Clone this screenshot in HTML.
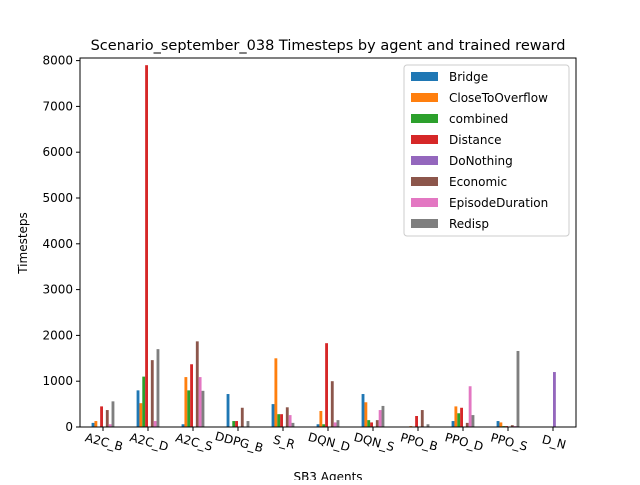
<!DOCTYPE html>
<html><head><meta charset="utf-8"><style>
body{margin:0;background:#fff}
text{font-family:"DejaVu Sans","Liberation Sans",sans-serif;fill:#000}
</style></head><body>
<svg id="chart" width="640" height="480" xmlns="http://www.w3.org/2000/svg">
<rect width="640" height="480" fill="#fff"/>
<text x="328" y="50" text-anchor="middle" font-size="14.5">Scenario_september_038 Timesteps by agent and trained reward</text>
<g id="bars"></g>
<g id="axes"></g>
<text transform="translate(27,243) rotate(-90)" text-anchor="middle" font-size="12">Timesteps</text>
<text x="328" y="481" text-anchor="middle" font-size="12">SB3 Agents</text>
<g id="legend"></g>
</svg>
<script>
const categories=["A2C_B","A2C_D","A2C_S","DDPG_B","S_R","DQN_D","DQN_S","PPO_B","PPO_D","PPO_S","D_N"];
const seriesNames=["Bridge","CloseToOverflow","combined","Distance","DoNothing","Economic","EpisodeDuration","Redisp"];
const colors=["#1f77b4","#ff7f0e","#2ca02c","#d62728","#9467bd","#8c564b","#e377c2","#7f7f7f"];
const bridge=[90,800,60,720,500,60,720,0,130,130,0];
const closeToOverflow=[130,520,1090,0,1500,350,540,20,450,100,0];
const combined=[0,1100,800,130,280,60,150,0,300,20,0];
const distance=[450,7900,1370,130,280,1830,100,240,420,20,0];
const doNothing=[0,0,0,0,0,0,0,0,0,0,1200];
const economic=[370,1460,1870,420,430,1000,150,370,90,40,0];
const episodeDuration=[60,130,1090,0,260,100,370,0,890,20,0];
const redisp=[560,1700,790,130,90,150,460,60,260,1660,0];
const yTicks=[0,1000,2000,3000,4000,5000,6000,7000,8000];
const series=[bridge,closeToOverflow,combined,distance,doNothing,economic,episodeDuration,redisp];
const L=80,R=576,T=58,B=427;
const ns="http://www.w3.org/2000/svg";
function y(v){return B-v*0.0458;}
function xc(i){return 103+i*45;}
const bw=2.85;
const gb=document.getElementById('bars');
series.forEach((s,si)=>{s.forEach((v,ci)=>{
 const r=document.createElementNS(ns,'rect');
 r.setAttribute('x',xc(ci)+(si-4)*bw);r.setAttribute('width',bw);
 r.setAttribute('y',y(v));r.setAttribute('height',B-y(v));r.setAttribute('fill',colors[si]);
 
 
 gb.appendChild(r);});});
const ga=document.getElementById('axes');
let h='<rect x="'+L+'" y="'+T+'" width="'+(R-L)+'" height="'+(B-T)+'" fill="none" stroke="#000" stroke-width="1"/>';
yTicks.forEach(t=>{h+='<line x1="'+(L-4)+'" x2="'+L+'" y1="'+y(t)+'" y2="'+y(t)+'" stroke="#000"/><text x="'+(L-7)+'" y="'+(y(t)+4)+'" text-anchor="end" font-size="12">'+t+'</text>';});
categories.forEach((c,i)=>{h+='<line x1="'+xc(i)+'" x2="'+xc(i)+'" y1="'+B+'" y2="'+(B+4)+'" stroke="#000"/><text transform="translate('+xc(i)+',446) rotate(15)" text-anchor="middle" font-size="12">'+c+'</text>';});
ga.innerHTML=h;


const gl=document.getElementById('legend');
let lh='<rect x="404" y="65" width="165" height="171" rx="3" fill="#fff" stroke="#ccc"/>';
seriesNames.forEach((n,i)=>{const yy=76+i*21;lh+='<g><rect x="411" y="'+(yy-4)+'" width="27" height="9" fill="'+colors[i]+'"/><text x="449" y="'+(yy+5)+'" font-size="12">'+n+'</text></g>';});
gl.innerHTML=lh;


</script>
</body></html>
